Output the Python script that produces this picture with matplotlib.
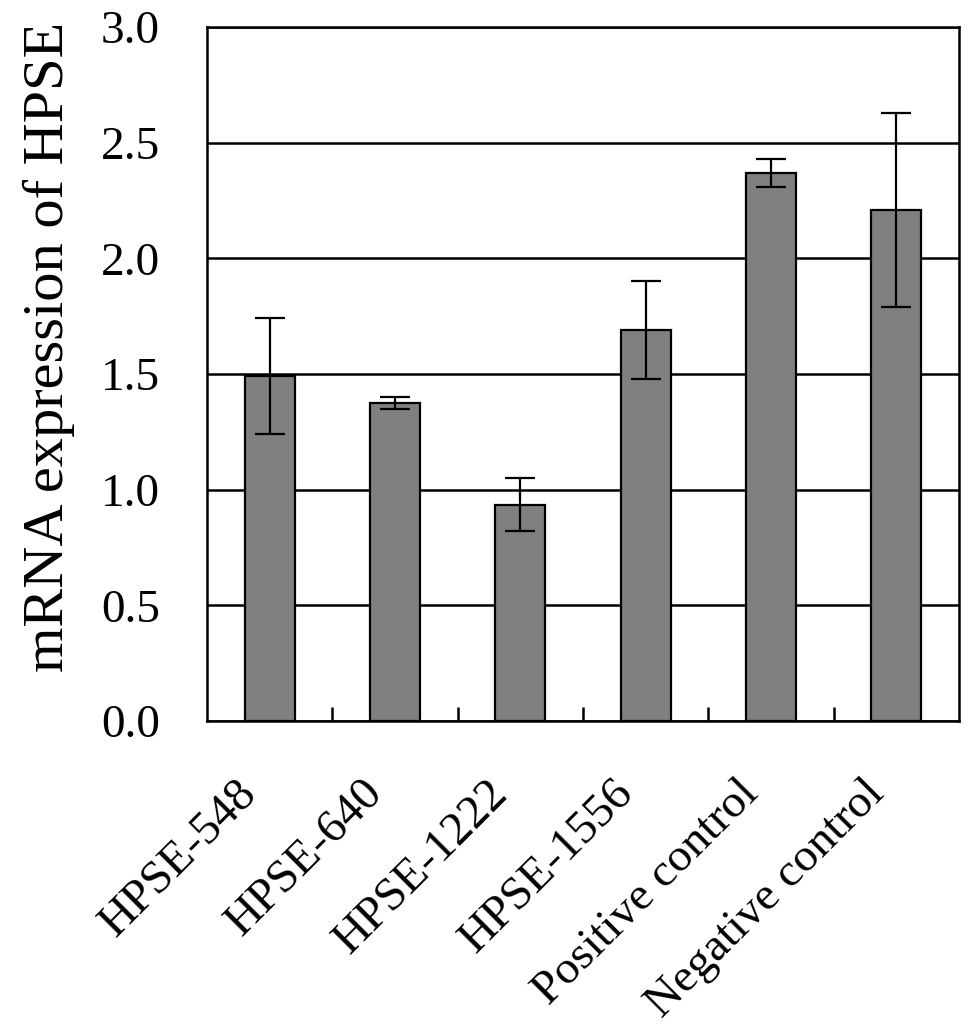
import numpy as np
import matplotlib.pyplot as plt

# 各组HPSE mRNA相对表达量及误差
groups = ['HPSE-548', 'HPSE-640', 'HPSE-1222', 'HPSE-1556',
          'Positive control', 'Negative control']
expression = [1.49, 1.375, 0.935, 1.69, 2.37, 2.21]
errors = [0.25, 0.025, 0.115, 0.21, 0.06, 0.42]
yticks = [0.0, 0.5, 1.0, 1.5, 2.0, 2.5, 3.0]

plt.rcParams['font.family'] = ['Liberation Serif', 'DejaVu Serif']

fig = plt.figure(figsize=(9.69, 10.25), dpi=100)
ax = fig.add_axes([207 / 969, 1 - 721 / 1025, 752 / 969, 694 / 1025])

x = np.arange(len(groups))
ax.bar(x, expression, width=0.4, color='#808080', edgecolor='black',
       linewidth=1.6, zorder=3)
ax.errorbar(x, expression, yerr=errors, fmt='none', ecolor='black',
            elinewidth=1.6, capsize=11, capthick=1.6, zorder=4)

ax.set_xlim(-0.5, len(groups) - 0.5)
ax.set_ylim(0, 3.0)
ax.set_yticks(yticks)
ax.set_yticklabels(['%.1f' % v for v in yticks], fontsize=34)
ax.yaxis.grid(True, color='black', linewidth=1.8, zorder=1)

# 类别之间的刻度线朝内
ax.set_xticks(x[:-1] + 0.5)
ax.set_xticklabels([])
ax.tick_params(axis='x', direction='in', length=10, width=1.8, bottom=True)
ax.tick_params(axis='y', direction='in', length=0, pad=34)
for i, name in enumerate(groups):
    ax.text(i - 0.27, -0.22, name, rotation=45, ha='right', va='top',
            rotation_mode='anchor', fontsize=34, transform=ax.transData)

for s in ax.spines.values():
    s.set_linewidth(1.8)

ax.set_ylabel('mRNA expression of HPSE', fontsize=42)
ax.yaxis.set_label_coords(-0.175, 0.539)

fig.savefig('out.png', dpi=100)
